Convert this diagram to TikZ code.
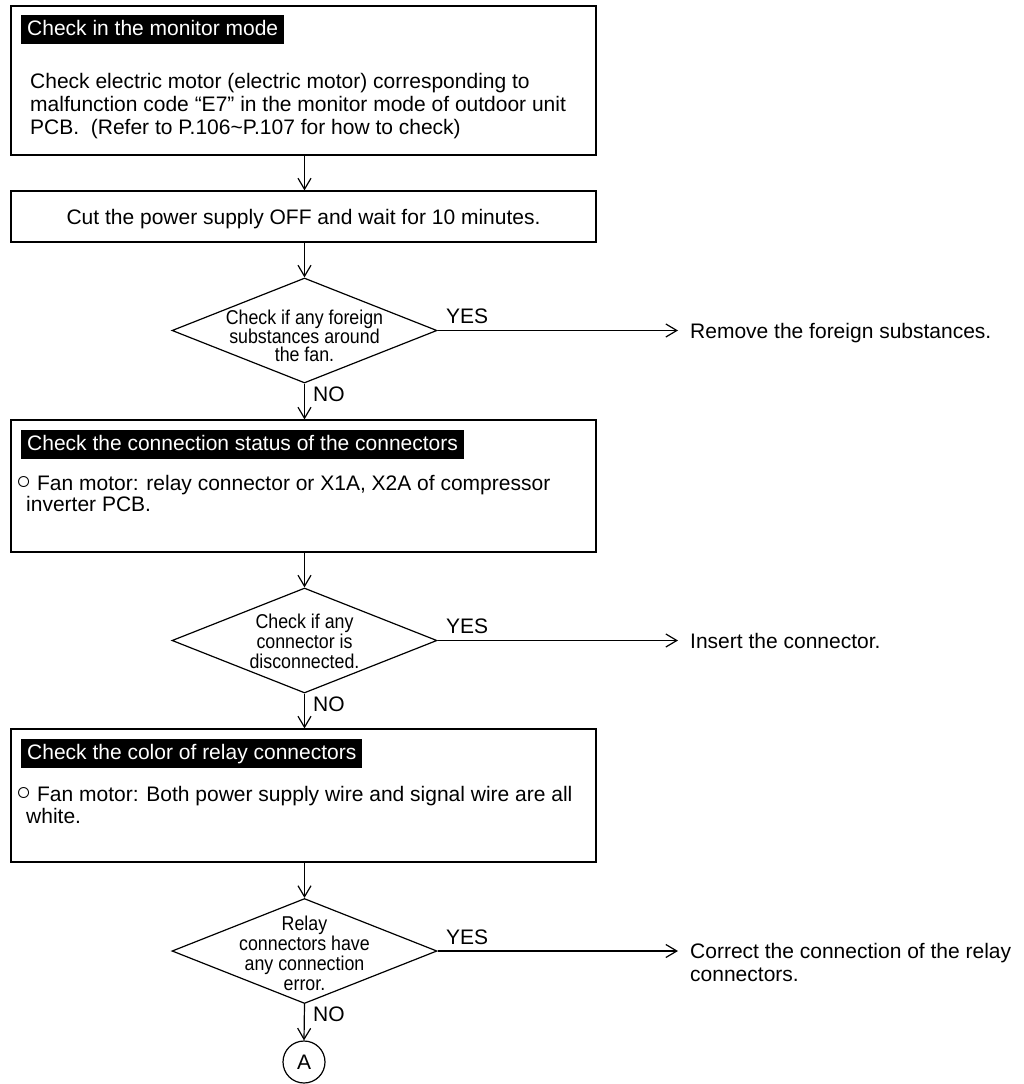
\documentclass[tikz,border=0pt]{standalone}
\usepackage{fontspec}
\setmainfont{Liberation Sans}
\newfontfamily\narrowfont[FakeStretch=0.89]{Liberation Sans}
\usetikzlibrary{shapes.geometric,arrows.meta}
\newcommand{\bul}{\raisebox{0.5pt}{\fontsize{25}{23}\selectfont ○}}
\begin{document}
\begin{tikzpicture}[x=1pt,y=-1pt,
  every node/.style={font=\fontsize{21}{23}\selectfont, inner sep=0pt},
  box/.style={draw, line width=1.2pt, minimum width=585pt, inner sep=0pt},
  hdr/.style={fill=black, text=white, anchor=north west, inner xsep=6pt, inner ysep=4pt, text height=16pt, text depth=5pt},
  body/.style={anchor=base west, align=left},
  dia/.style={diamond, draw, line width=1.2pt, minimum width=265pt, minimum height=105pt, inner sep=0pt},
  dtext/.style={align=center, font=\narrowfont\fontsize{20}{19}\selectfont},
  arr/.style={line width=1.2pt, -{Straight Barb[length=11pt,width=13pt]}},
  side/.style={anchor=base west, align=left},
  yn/.style={anchor=base west}]
\fill[white] (0,0) rectangle (1024,1084);
\useasboundingbox (0,0) rectangle (1024,1084);

% Box 1
\node[box, minimum height=149pt] (b1) at (303.5,80.5) {};
\node[hdr] (h1) at (21,15) {Check in the monitor mode};
\node[body] (t1) at (30,134) {Check electric motor (electric motor) corresponding to\\malfunction code “E7” in the monitor mode of outdoor unit\\PCB.\ \ (Refer to P.106\textasciitilde P.107 for how to check)};

% Box 2
\node[box, minimum height=51pt] (b2) at (303.5,216.5) {};
\node[anchor=base] (t2) at (303.5,224) {Cut the power supply OFF and wait for 10 minutes.};

% Diamond 1
\node[dia] (d1) at (304.5,330.5) {};
\node[dtext, font=\narrowfont\fontsize{20}{18}\selectfont] (dt1) at (304.5,336) {Check if any foreign\\substances around\\the fan.};
\node[yn] (y1) at (446,323.5) {YES};
\node[yn] (n1) at (313,401) {NO};
\coordinate (e1) at (678,330.5);
\node[side] (r1) at (690,338) {Remove the foreign substances.};

% Box 3
\node[box, minimum height=132pt] (b3) at (303.5,486) {};
\node[hdr] (h3) at (21,430) {Check the connection status of the connectors};
\node[body, font=\fontsize{21}{19}\selectfont] (t3) at (16,511) {\bul\ Fan motor: relay connector or X1A, X2A of compressor\\\hspace*{10pt}inverter PCB.};

% Diamond 2
\node[dia] (d2) at (304.5,640.5) {};
\node[dtext, font=\narrowfont\fontsize{20}{20}\selectfont] (dt2) at (304.5,641) {Check if any\\connector is\\disconnected.};
\node[yn] (y2) at (446,633.5) {YES};
\node[yn] (n2) at (313,711) {NO};
\coordinate (e2) at (678,640.5);
\node[side] (r2) at (690,648) {Insert the connector.};

% Box 4
\node[box, minimum height=133pt] (b4) at (303.5,795.5) {};
\node[hdr] (h4) at (21,739) {Check the color of relay connectors};
\node[body, font=\fontsize{21}{22}\selectfont] (t4) at (16,823) {\bul\ Fan motor: Both power supply wire and signal wire are all\\\hspace*{10pt}white.};

% Diamond 3
\node[dia] (d3) at (304.5,951) {};
\node[dtext, font=\narrowfont\fontsize{20}{20}\selectfont] (dt3) at (304.5,953) {Relay\\connectors have\\any connection\\error.};
\node[yn] (y3) at (446,944) {YES};
\node[yn] (n3) at (313,1021) {NO};
\coordinate (e3) at (678,951);
\node[side] (r3) at (690,981.5) {Correct the connection of the relay\\connectors.};

% Connector A
\node[draw, circle, line width=1.2pt, minimum size=42pt, inner sep=0pt] (A) at (304,1062) {A};

% Connectors
\draw[arr] (b1.south -| d1.north) -- (b2.north -| d1.north);
\draw[arr] (b2.south -| d1.north) -- (d1.north);
\draw[arr] (d1.east) -- (e1);
\draw[arr] (d1.south) -- (b3.north -| d1.south);
\draw[arr] (b3.south -| d2.north) -- (d2.north);
\draw[arr] (d2.east) -- (e2);
\draw[arr] (d2.south) -- (b4.north -| d2.south);
\draw[arr] (b4.south -| d3.north) -- (d3.north);
\draw[arr] (d3.east) -- (e3);
\draw[arr] (d3.south) -- (A.north);
\end{tikzpicture}
\end{document}
